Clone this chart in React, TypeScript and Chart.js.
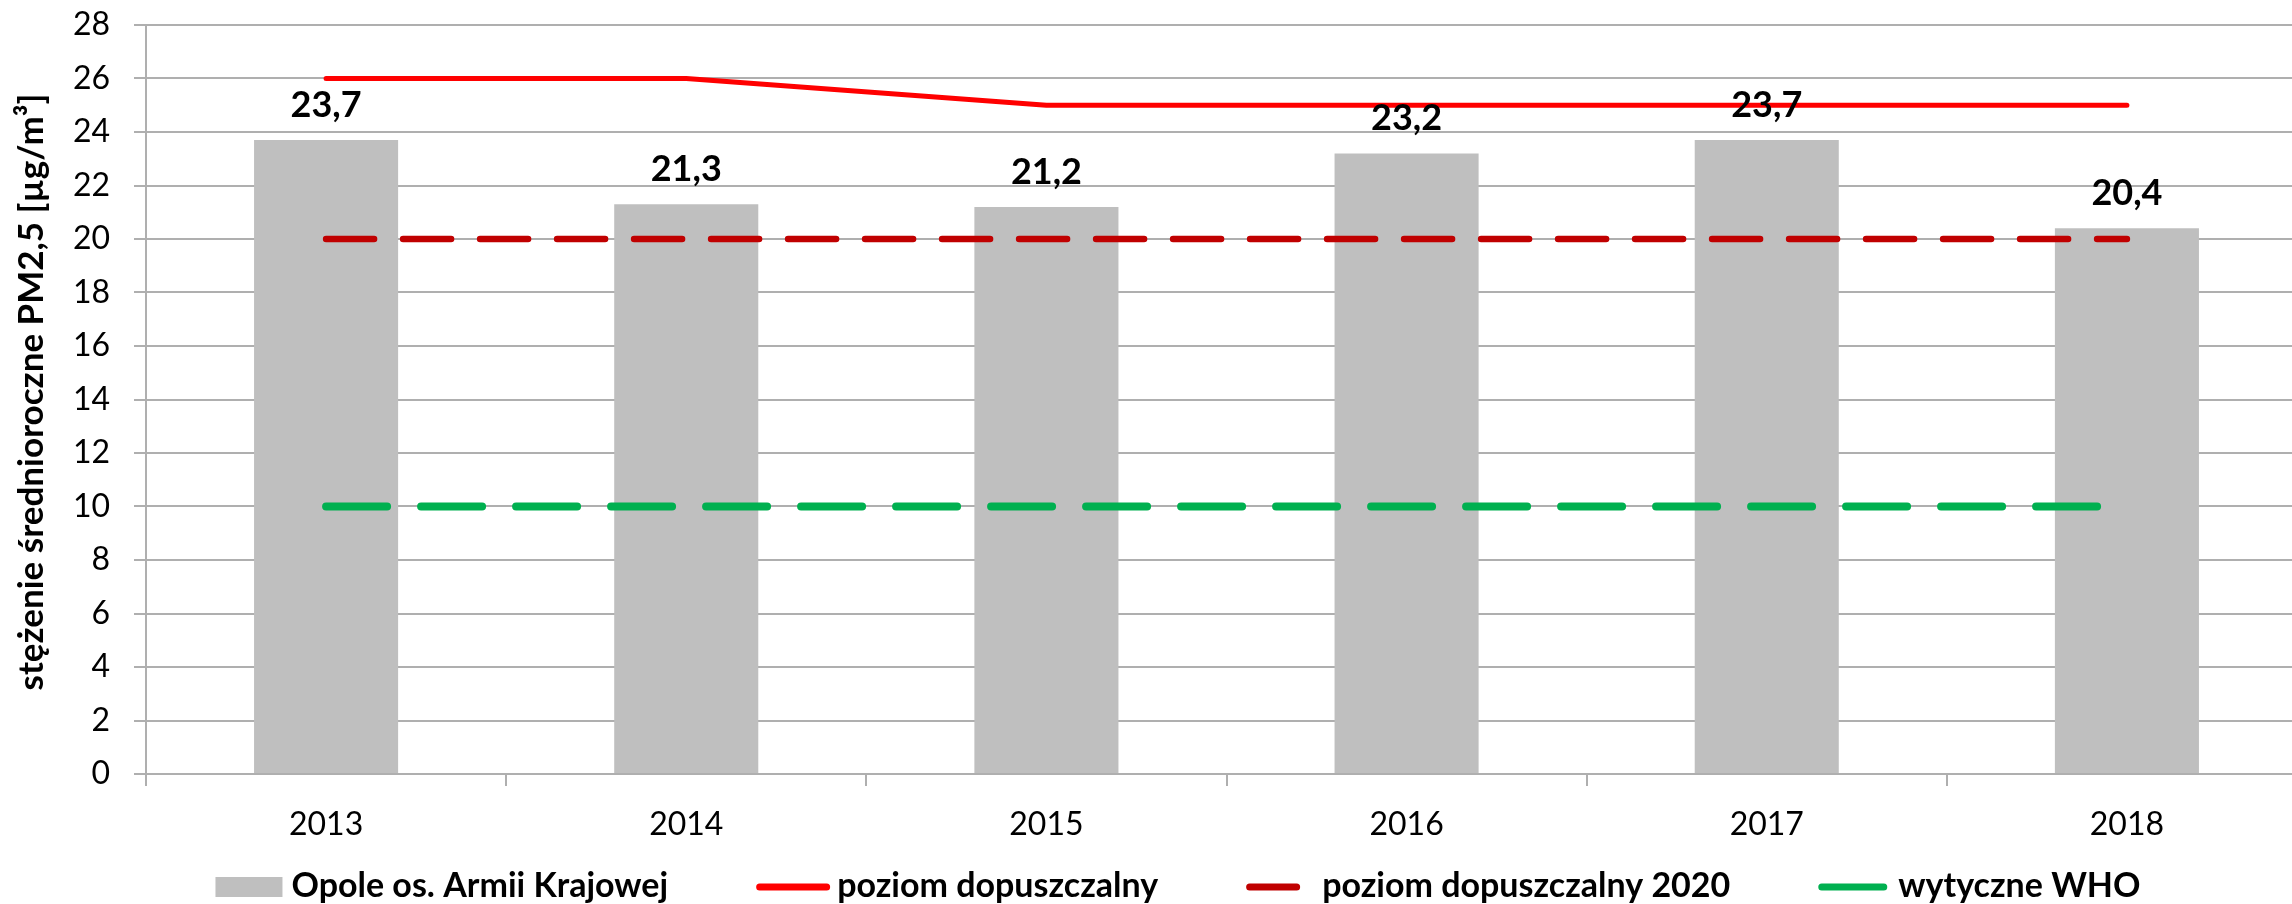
import React, { useEffect, useRef } from 'react';
import { Chart, registerables } from 'chart.js';

Chart.register(...registerables);

const years = ['2013', '2014', '2015', '2016', '2017', '2018'];
const pm25Opole = [23.7, 21.3, 21.2, 23.2, 23.7, 20.4];
const limitValue = [26, 26, 25, 25, 25, 25];
const limitValue2020 = [20, 20, 20, 20, 20, 20];
const whoGuideline = [10, 10, 10, 10, 10, 10];
const seriesNames = ['Opole os. Armii Krajowej', 'poziom dopuszczalny', 'poziom dopuszczalny 2020', 'wytyczne WHO'];
const seriesColors = ['#BFBFBF', '#FF0000', '#C00000', '#00B050'];
const yAxisTitle = 'stężenie średnioroczne PM2,5 [µg/m³]';

const FONT = 'Lato';
const GRID = '#AFAFAF';

export default function App() {
  const ref = useRef<HTMLCanvasElement>(null);

  useEffect(() => {
    const canvas = ref.current;
    if (!canvas) return;

    const valueLabels = {
      id: 'valueLabels',
      afterDatasetsDraw(chart: any) {
        const ctx = chart.ctx;
        const meta = chart.getDatasetMeta(0);
        ctx.save();
        ctx.font = `bold 36px ${FONT}`;
        ctx.fillStyle = '#000';
        ctx.textAlign = 'center';
        ctx.textBaseline = 'alphabetic';
        meta.data.forEach((el: any, i: number) => {
          const v = chart.data.datasets[0].data[i] as number;
          ctx.fillText(v.toFixed(1).replace('.', ','), el.x, el.y - 23);
        });
        ctx.restore();
      },
    };

    const yTitle = {
      id: 'yTitle',
      afterDraw(chart: any) {
        const ctx = chart.ctx;
        ctx.save();
        ctx.translate(43, 392);
        ctx.rotate(-Math.PI / 2);
        ctx.font = `bold 35px ${FONT}`;
        ctx.fillStyle = '#000';
        ctx.textAlign = 'center';
        ctx.textBaseline = 'alphabetic';
        ctx.fillText(yAxisTitle, 0, 0);
        ctx.restore();
      },
    };

    const customLegend = {
      id: 'customLegend',
      afterDraw(chart: any) {
        const ctx = chart.ctx;
        ctx.save();
        ctx.font = `bold 34px ${FONT}`;
        const sampleLen = [67, 74, 54, 69];
        const textOffset = [76, 81, 76, 80];
        const spacing = 88;
        const widths = seriesNames.map((t) => ctx.measureText(t).width);
        let total = spacing * (seriesNames.length - 1);
        widths.forEach((w, i) => (total += textOffset[i] + w));
        let x = 1178 - total / 2;
        const cy = 887;
        seriesNames.forEach((name, i) => {
          if (i === 0) {
            ctx.fillStyle = seriesColors[0];
            ctx.fillRect(x, cy - 10, sampleLen[0], 20);
          } else {
            const lw = 7;
            ctx.strokeStyle = seriesColors[i];
            ctx.lineWidth = lw;
            ctx.lineCap = 'round';
            ctx.beginPath();
            ctx.moveTo(x + lw / 2, cy);
            ctx.lineTo(x + sampleLen[i] - lw / 2, cy);
            ctx.stroke();
          }
          ctx.fillStyle = '#000';
          ctx.textAlign = 'left';
          ctx.textBaseline = 'alphabetic';
          ctx.fillText(name, x + textOffset[i], 897);
          x += textOffset[i] + widths[i] + spacing;
        });
        ctx.restore();
      },
    };

    const chart = new Chart(canvas, {
      type: 'bar',
      data: {
        labels: years,
        datasets: [
          {
            type: 'bar',
            label: seriesNames[0],
            data: pm25Opole,
            backgroundColor: seriesColors[0],
            borderWidth: 0,
            barPercentage: 0.4,
            categoryPercentage: 1,
            order: 1,
          },
          {
            type: 'line',
            label: seriesNames[1],
            data: limitValue,
            borderColor: seriesColors[1],
            backgroundColor: seriesColors[1],
            borderWidth: 5,
            pointRadius: 0,
            tension: 0,
            borderCapStyle: 'round',
            borderJoinStyle: 'round',
            order: 0,
          },
          {
            type: 'line',
            label: seriesNames[2],
            data: limitValue2020,
            borderColor: seriesColors[2],
            backgroundColor: seriesColors[2],
            borderWidth: 6.5,
            borderDash: [48, 29],
            borderCapStyle: 'round',
            pointRadius: 0,
            tension: 0,
            order: 0,
          },
          {
            type: 'line',
            label: seriesNames[3],
            data: whoGuideline,
            borderColor: seriesColors[3],
            backgroundColor: seriesColors[3],
            borderWidth: 8,
            borderDash: [61, 34],
            borderCapStyle: 'round',
            pointRadius: 0,
            tension: 0,
            order: 0,
          },
        ] as any,
      },
      options: {
        responsive: false,
        animation: false,
        devicePixelRatio: 1,
        layout: { padding: { top: 25, left: 49, right: 13, bottom: 50 } },
        plugins: {
          tooltip: { enabled: false },
          title: { display: false },
          legend: { display: false },
        },
        scales: {
          x: {
            type: 'category',
            offset: true,
            afterFit: (s: any) => {
              s.height = 80;
            },
            grid: {
              display: true,
              offset: true,
              drawOnChartArea: false,
              drawTicks: true,
              tickLength: 12,
              color: GRID,
              lineWidth: 2,
            },
            border: { display: true, color: GRID, width: 2 },
            ticks: {
              color: '#000',
              padding: 19,
              maxRotation: 0,
              autoSkip: false,
              font: { family: FONT, size: 32 },
            },
          },
          y: {
            type: 'linear',
            min: 0,
            max: 28,
            afterFit: (s: any) => {
              s.width = 97;
              s.paddingTop = 0;
              s.paddingBottom = 0;
            },
            grid: {
              color: GRID,
              lineWidth: 2,
              drawTicks: true,
              tickLength: 12,
            },
            border: { display: true, color: GRID, width: 2 },
            ticks: {
              stepSize: 2,
              color: '#000',
              padding: 24,
              font: { family: FONT, size: 32 },
            },
          },
        },
      } as any,
      plugins: [valueLabels, yTitle, customLegend],
    });

    if ((document as any).fonts && (document as any).fonts.load) {
      Promise.all([
        (document as any).fonts.load(`32px ${FONT}`),
        (document as any).fonts.load(`bold 32px ${FONT}`),
      ])
        .then(() => chart.update())
        .catch(() => {});
    }

    return () => chart.destroy();
  }, []);

  return (
    <div
      style={{
        position: 'fixed',
        left: 0,
        top: 0,
        width: 2292,
        height: 904,
        overflow: 'hidden',
        background: '#fff',
      }}
    >
      <canvas ref={ref} width={2320} height={904} style={{ display: 'block', width: 2320, height: 904 }} />
    </div>
  );
}
